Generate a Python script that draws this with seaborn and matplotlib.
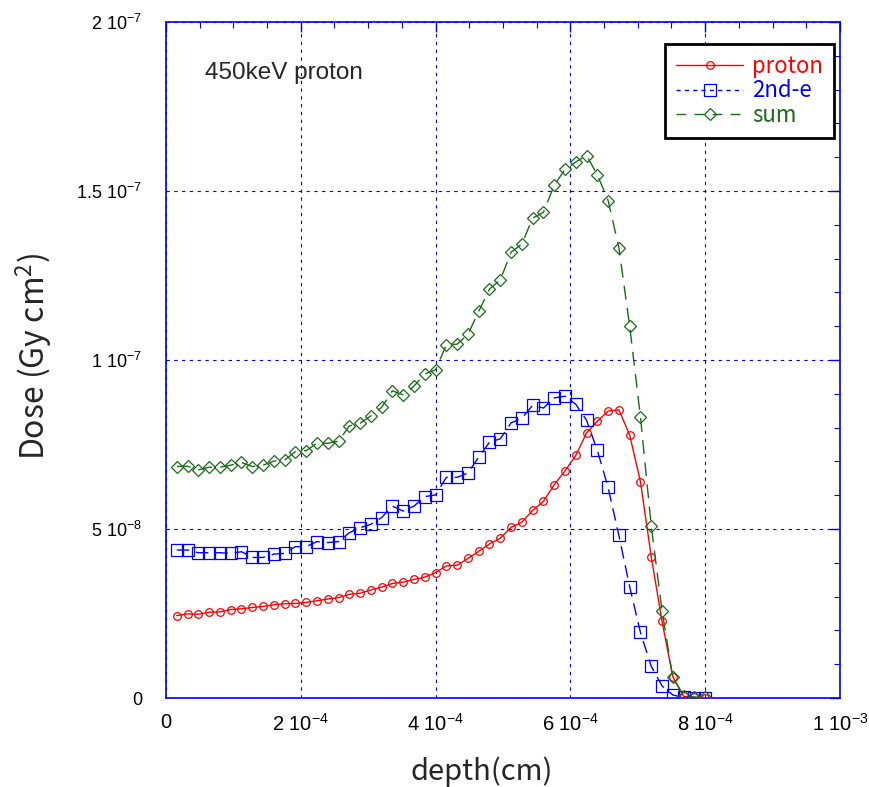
import numpy as np
import pandas as pd
import matplotlib
matplotlib.use("Agg")
import matplotlib.pyplot as plt
from matplotlib.ticker import MultipleLocator
from matplotlib.lines import Line2D
import seaborn as sns

# depth grid: one point every 1.6e-5 cm
depth = np.arange(1, 51) * 1.6e-5

proton = np.array([
    2.44, 2.49, 2.48, 2.54, 2.55, 2.62, 2.64, 2.68, 2.71, 2.76,
    2.79, 2.80, 2.83, 2.88, 2.93, 2.97, 3.07, 3.10, 3.20, 3.28,
    3.39, 3.43, 3.51, 3.58, 3.71, 3.91, 3.93, 4.13, 4.34, 4.56,
    4.73, 5.05, 5.20, 5.55, 5.82, 6.31, 6.72, 7.18, 7.84, 8.19,
    8.49, 8.53, 7.78, 6.40, 4.18, 2.27, 0.63, 0.05, 0.02, 0.01]) * 1e-8

electron = np.array([
    4.38, 4.38, 4.30, 4.30, 4.30, 4.28, 4.33, 4.16, 4.16, 4.26,
    4.28, 4.48, 4.48, 4.63, 4.60, 4.63, 4.89, 5.04, 5.14, 5.34,
    5.68, 5.53, 5.68, 5.96, 6.01, 6.53, 6.53, 6.66, 7.13, 7.57,
    7.67, 8.14, 8.28, 8.66, 8.58, 8.88, 8.93, 8.69, 8.22, 7.33,
    6.23, 4.81, 3.29, 1.94, 0.94, 0.36, 0.09, 0.02, 0.01, 0.01]) * 1e-8

total = np.array([
    6.85, 6.86, 6.75, 6.83, 6.83, 6.89, 6.97, 6.85, 6.89, 7.01,
    7.04, 7.29, 7.32, 7.54, 7.54, 7.60, 8.05, 8.13, 8.35, 8.60,
    9.09, 8.97, 9.23, 9.59, 9.71, 10.45, 10.47, 10.76, 11.44, 12.10,
    12.37, 13.19, 13.43, 14.20, 14.37, 15.17, 15.64, 15.86, 16.05, 15.48,
    14.72, 13.32, 11.00, 8.31, 5.09, 2.58, 0.61, 0.07, 0.03, 0.02]) * 1e-8

xticks = [0, 2e-4, 4e-4, 6e-4, 8e-4, 1e-3]
xticklabels = ["0", "2 10$^{-4}$", "4 10$^{-4}$", "6 10$^{-4}$", "8 10$^{-4}$", "1 10$^{-3}$"]
yticks = [0, 5e-8, 1e-7, 1.5e-7, 2e-7]
yticklabels = ["0", "5 10$^{-8}$", "1 10$^{-7}$", "1.5 10$^{-7}$", "2 10$^{-7}$"]

sns.set_style("white")
plt.rcParams["font.family"] = ["Liberation Sans", "DejaVu Sans"]
plt.rcParams["mathtext.default"] = "regular"
cjk = ["Noto Sans CJK JP", "DejaVu Sans"]

blue = "#0000ee"
green = "#1a6b1a"

df = pd.DataFrame({"depth": depth, "proton": proton,
                   "electron": electron, "total": total})

fig = plt.figure(figsize=(8.69, 7.87), dpi=100)
ax = fig.add_axes([0.191, 0.113, 0.7756, 0.859])

sns.lineplot(data=df, x="depth", y="proton", ax=ax, color="red", lw=1,
             marker="o", ms=5.5, mfc="none", mec="red", mew=0.9, zorder=3)
sns.lineplot(data=df, x="depth", y="electron", ax=ax, color="blue", lw=1,
             marker="s", ms=8.5, mfc="none", mec="blue", mew=0.9, zorder=3)
ax.lines[-1].set_dashes((9, 5))
sns.lineplot(data=df, x="depth", y="total", ax=ax, color=green, lw=1,
             marker="D", ms=6, mfc="none", mec=green, mew=0.9, zorder=3)
ax.lines[-1].set_dashes((10, 6))

ax.set_xlim(0, 1e-3)
ax.set_ylim(0, 2e-7)
ax.set_xticks(xticks)
ax.set_xticklabels(xticklabels, fontsize=14.5)
ax.set_yticks(yticks)
ax.set_yticklabels(yticklabels, fontsize=13)
ax.xaxis.set_minor_locator(MultipleLocator(5e-5))
ax.yaxis.set_minor_locator(MultipleLocator(1e-8))
ax.tick_params(which="both", direction="in", top=True, right=True,
               color=blue, labelcolor="black")
ax.tick_params(which="major", length=7, width=1)
ax.tick_params(which="minor", length=4, width=0.8)
ax.tick_params(axis="x", pad=11)
ax.tick_params(axis="y", pad=17)
for s in ax.spines.values():
    s.set_color(blue)
    s.set_linewidth(1.2)

ax.grid(True, which="major", color=blue, lw=0.8, linestyle=(0, (3, 4)))
ax.set_axisbelow(True)

ax.set_xlabel("depth(cm)", fontsize=21, family=cjk, va="center", ha="center")
ax.xaxis.set_label_coords(0.469, -0.109)
ax.set_ylabel("Dose (Gy cm$^2$)", fontsize=23, family=cjk, va="center", ha="center")
ax.yaxis.set_label_coords(-0.197, 0.505)

ax.text(0.058, 0.925, "450keV proton", transform=ax.transAxes, fontsize=17.5,
        va="center", ha="left")

handles = [
    Line2D([], [], color="red", lw=1, marker="o", ms=5.5, mfc="none", mew=0.9),
    Line2D([], [], color="blue", lw=1, marker="s", ms=8.5, mfc="none", mew=0.9, dashes=(3, 3)),
    Line2D([], [], color=green, lw=1, marker="D", ms=6, mfc="none", mew=0.9, dashes=(7, 6)),
]
leg = ax.legend(handles, ["proton", "2nd-e", "sum"], loc="upper right",
                bbox_to_anchor=(0.991, 0.9675), borderaxespad=0,
                fancybox=False, framealpha=1,
                edgecolor="black", handlelength=3.0, borderpad=0.5,
                labelspacing=0.06, handletextpad=0.4,
                prop={"family": cjk, "size": 16})
leg.get_frame().set_linewidth(2)
for t, c in zip(leg.get_texts(), ["red", "blue", green]):
    t.set_color(c)

fig.savefig("out.png", dpi=100)
